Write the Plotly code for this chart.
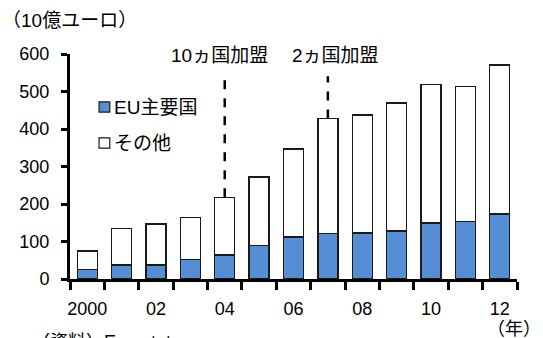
import plotly.graph_objects as go

# Annual values, 10 billion euro units
years = [2000, 2001, 2002, 2003, 2004, 2005, 2006, 2007, 2008, 2009, 2010, 2011, 2012]
eu_major = [26, 37, 37, 52, 64, 89, 112, 122, 123, 128, 149, 153, 173]
total = [75, 135, 147, 164, 218, 272, 347, 428, 437, 469, 518, 514, 571]
others = [t - e for t, e in zip(total, eu_major)]

# Year labels shown every other year
label_years = [2000, 2002, 2004, 2006, 2008, 2010, 2012]
label_text = ["2000", "02", "04", "06", "08", "10", "12"]

# Enlargement events: (year, label)
events = [(2004, "10ヵ国加盟"), (2007, "2ヵ国加盟")]

series_names = ["EU主要国", "その他"]

FONT = "Liberation Sans, Noto Sans CJK JP, sans-serif"
BLUE = "#558ED5"
EDGE = "#1a1a1a"

fig = go.Figure()
fig.add_trace(go.Bar(
    x=years, y=eu_major, name=series_names[0], showlegend=False,
    marker=dict(color=BLUE, line=dict(color=EDGE, width=1.3)),
))
fig.add_trace(go.Bar(
    x=years, y=others, name=series_names[1], showlegend=False,
    marker=dict(color="white", line=dict(color=EDGE, width=1.3)),
))

# Dashed markers and labels for enlargement years
shift = {2004: -5, 2007: 8}
for yr, label in events:
    top = total[years.index(yr)]
    fig.add_shape(type="line", xref="x", yref="y",
                  x0=yr, x1=yr, y0=top, y1=541,
                  line=dict(color="black", width=2.5, dash="dash"))
    fig.add_annotation(x=yr, y=595, xref="x", yref="y", text=label,
                       showarrow=False, xshift=shift[yr],
                       font=dict(family=FONT, size=19, color="black"))

# Legend drawn as swatches plus text
swatches = [(BLUE, 0.742, 0.787, 0.764), ("white", 0.582, 0.627, 0.604)]
for (color, y0, y1, ty), name in zip(swatches, series_names):
    fig.add_shape(type="rect", xref="paper", yref="paper",
                  x0=0.065, x1=0.089, y0=y0, y1=y1,
                  fillcolor=color, line=dict(color=EDGE, width=1.2))
    fig.add_annotation(x=0.093, y=ty, xref="paper", yref="paper", text=name,
                       showarrow=False, xanchor="left", yanchor="middle",
                       font=dict(family=FONT, size=19, color="black"))

fig.add_annotation(x=-0.156, y=1.151, xref="paper", yref="paper",
                   text="（10億ユーロ）", showarrow=False,
                   xanchor="left", yanchor="middle",
                   font=dict(family=FONT, size=19, color="black"))
fig.add_annotation(x=1.058, y=-0.222, xref="paper", yref="paper",
                   text="（年）", showarrow=False,
                   xanchor="right", yanchor="middle",
                   font=dict(family=FONT, size=18, color="black"))
fig.add_annotation(x=-0.09, y=-0.225, xref="paper", yref="paper",
                   text="（資料）Eurostat", showarrow=False,
                   xanchor="left", yanchor="top",
                   font=dict(family=FONT, size=18, color="black"))

x_range = [years[0] - 0.5, years[-1] + 0.5]
boundaries = [y - 0.5 for y in years] + [years[-1] + 0.5]

fig.update_layout(
    width=543, height=338,
    margin=dict(l=70, r=26, t=54, b=59),
    barmode="stack", bargap=0.42,
    plot_bgcolor="white", paper_bgcolor="white",
    font=dict(family=FONT, size=18, color="black"),
    # Labels under every other bar (unseen major ticks set their offset);
    # visible tick marks sit between the years
    xaxis=dict(range=x_range, tickmode="array", tickvals=label_years,
               ticktext=label_text, ticks="outside", ticklen=11,
               tickcolor="rgba(0,0,0,0)", tickangle=0,
               minor=dict(tickmode="array", tickvals=boundaries,
                          ticks="outside", ticklen=8, tickwidth=3,
                          tickcolor="black"),
               showline=True, linecolor="black", linewidth=3, showgrid=False),
    yaxis=dict(range=[0, 600], tickmode="array",
               tickvals=[0, 100, 200, 300, 400, 500, 600],
               ticks="outside", ticklen=6, tickwidth=2.5, tickcolor="black",
               ticklabelstandoff=8,
               showline=True, linecolor="black", linewidth=3, showgrid=False,
               zeroline=False),
)

fig.write_html("out.html")
